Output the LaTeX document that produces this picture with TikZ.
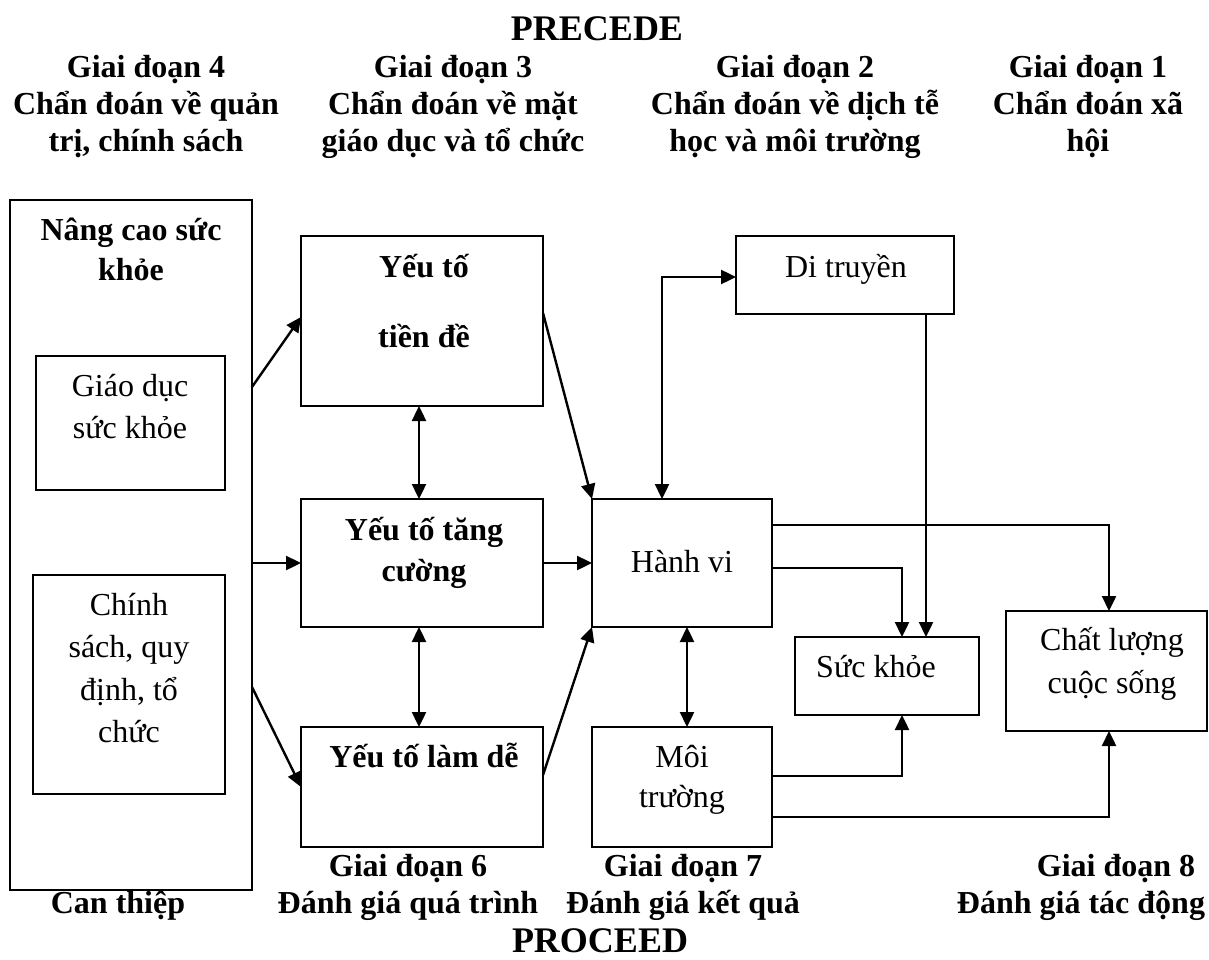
\documentclass[tikz,border=0pt]{standalone}
\usepackage{fontspec}
\setmainfont{Liberation Serif}
\usetikzlibrary{arrows.meta,calc}

\begin{document}
\begin{tikzpicture}[x=1pt,y=-1pt,
  box/.style={draw,line width=2pt,inner sep=0pt,outer sep=0pt,rectangle},
  txt/.style={inner sep=0pt,anchor=base,font=\fontsize{32}{38}\selectfont},
  btxt/.style={inner sep=0pt,anchor=base,font=\fontsize{32}{38}\selectfont\bfseries},
  ttl/.style={inner sep=0pt,anchor=base,font=\fontsize{36}{42}\selectfont\bfseries},
  tip/.style={Triangle[length=15pt,width=14pt]},
  conn/.style={line width=2.4pt,-{Triangle[length=15pt,width=14pt]}},
  dconn/.style={line width=2.4pt,{Triangle[length=15pt,width=14pt]}-{Triangle[length=15pt,width=14pt]}}]

\useasboundingbox (0,0) rectangle (1209,960);

% ---- boxes ----
\node[box,minimum width=242pt,minimum height=690pt] (big) at (131,545) {};
\node[box,minimum width=189pt,minimum height=134pt] (giaoduc) at (130.5,423) {};
\node[box,minimum width=192pt,minimum height=219pt] (chinhsach) at (129,684.5) {};
\node[box,minimum width=242pt,minimum height=170pt] (tiende) at (422,321) {};
\node[box,minimum width=242pt,minimum height=128pt] (tangcuong) at (422,563) {};
\node[box,minimum width=242pt,minimum height=120pt] (lamde) at (422,787) {};
\node[box,minimum width=180pt,minimum height=128pt] (hanhvi) at (682,563) {};
\node[box,minimum width=180pt,minimum height=120pt] (moitruong) at (682,787) {};
\node[box,minimum width=218pt,minimum height=78pt] (ditruyen) at (845,275) {};
\node[box,minimum width=184pt,minimum height=78pt] (suckhoe) at (887,676) {};
\node[box,minimum width=201pt,minimum height=120pt] (chatluong) at (1106.5,671) {};

% ---- headings: PRECEDE phases ----
\node[ttl] (precede) at (597,41) {PRECEDE};
\node[btxt] (p4a) at (146,78) {Giai đoạn 4};
\node[btxt] (p4b) at (146,115) {Chẩn đoán về quản};
\node[btxt] (p4c) at (146,152) {trị, chính sách};
\node[btxt] (p3a) at (453,78) {Giai đoạn 3};
\node[btxt] (p3b) at (453,115) {Chẩn đoán về mặt};
\node[btxt] (p3c) at (453,152) {giáo dục và tổ chức};
\node[btxt] (p2a) at (795,78) {Giai đoạn 2};
\node[btxt] (p2b) at (795,115) {Chẩn đoán về dịch tễ};
\node[btxt] (p2c) at (795,152) {học và môi trường};
\node[btxt] (p1a) at (1088,78) {Giai đoạn 1};
\node[btxt] (p1b) at (1088,115) {Chẩn đoán xã};
\node[btxt] (p1c) at (1088,152) {hội};

% ---- box texts ----
\node[btxt] (bigA) at (131,240) {Nâng cao sức};
\node[btxt] (bigB) at (131,280) {khỏe};
\node[txt] (gdA) at (130,396) {Giáo dục};
\node[txt] (gdB) at (130,438) {sức khỏe};
\node[txt] (csA) at (129,615) {Chính};
\node[txt] (csB) at (129,657) {sách, quy};
\node[txt] (csC) at (129,700) {định, tổ};
\node[txt] (csD) at (129,742) {chức};
\node[btxt] (tdA) at (424,277) {Yếu tố};
\node[btxt] (tdB) at (424,347) {tiền đề};
\node[btxt] (tcA) at (424,540) {Yếu tố tăng};
\node[btxt] (tcB) at (424,581) {cường};
\node[btxt] (ldA) at (424,767) {Yếu tố làm dễ};
\node[txt] (hvA) at (682,572) {Hành vi};
\node[txt] (mtA) at (682,767) {Môi};
\node[txt] (mtB) at (682,807) {trường};
\node[txt] (dtA) at (846,277) {Di truyền};
\node[txt] (skA) at (876,677) {Sức khỏe};
\node[txt] (clA) at (1112,650) {Chất lượng};
\node[txt] (clB) at (1112,693) {cuộc sống};

% ---- bottom: PROCEED phases ----
\node[btxt] (canthiep) at (118,913) {Can thiệp};
\node[btxt] (p6a) at (408,876) {Giai đoạn 6};
\node[btxt] (p6b) at (408,913) {Đánh giá quá trình};
\node[btxt] (p7a) at (683,876) {Giai đoạn 7};
\node[btxt] (p7b) at (683,913) {Đánh giá kết quả};
\node[btxt] (p8a) at (1116,876) {Giai đoạn 8};
\node[btxt] (p8b) at (1081,913) {Đánh giá tác động};
\node[ttl] (proceed) at (600,952) {PROCEED};

% ---- connectors ----
\draw[conn] ([yshift=158pt]big.east) -- ([yshift=4pt]tiende.west);
\draw[conn] (tangcuong.west -| big.east) -- (tangcuong.west);
\draw[conn] ([yshift=-142pt]big.east) -- (lamde.west);

\draw[conn] ([yshift=8pt]tiende.east) -- (hanhvi.north west);
\draw[conn] (tangcuong.east) -- (hanhvi.west);
\draw[conn] ([yshift=12pt]lamde.east) -- (hanhvi.south west);

\draw[dconn] ([xshift=-3pt]tiende.south) -- ([xshift=-3pt]tangcuong.north);
\draw[dconn] ([xshift=-3pt]tangcuong.south) -- ([xshift=-3pt]lamde.north);

\draw[dconn] ([xshift=-20pt]hanhvi.north) |- ([yshift=-2pt]ditruyen.west);
\draw[dconn] ([xshift=5pt]hanhvi.south) -- ([xshift=5pt]moitruong.north);

\coordinate (dtx) at ([xshift=81pt]ditruyen.south);
\draw[conn] (dtx) -- (dtx |- suckhoe.north);

\draw[conn] ([yshift=-5pt]hanhvi.east) -| ([xshift=15pt]suckhoe.north);
\draw[conn] ([yshift=38pt]hanhvi.east) -| ([xshift=2.5pt]chatluong.north);
\draw[conn] ([yshift=11pt]moitruong.east) -| ([xshift=15pt]suckhoe.south);
\draw[conn] ([yshift=-30pt]moitruong.east) -| ([xshift=2.5pt]chatluong.south);

\end{tikzpicture}
\end{document}
